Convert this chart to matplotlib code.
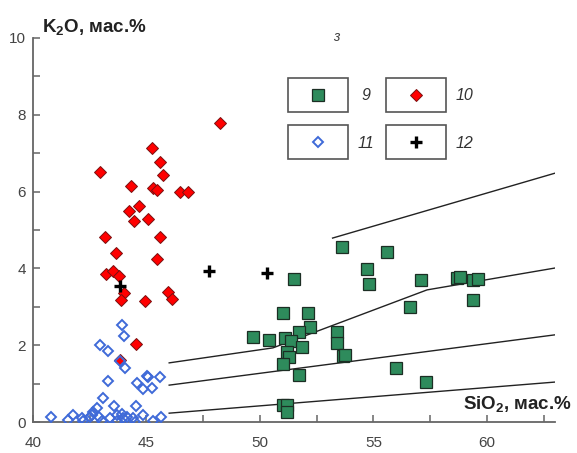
import matplotlib
matplotlib.use("Agg")
import matplotlib.pyplot as plt
from matplotlib.patches import Rectangle
from matplotlib.lines import Line2D

plt.rcParams['font.family'] = ['Liberation Sans', 'DejaVu Sans']
plt.rcParams['mathtext.default'] = 'regular'

# --- data (SiO2, K2O, wt.%) ---
# 9: green squares
g_si = [53.6, 55.6, 51.5, 54.7, 54.8, 57.1, 58.7, 58.8, 59.4, 59.6, 59.4, 56.6,
        51.0, 52.1, 52.2, 51.7, 53.4, 49.7, 50.4, 51.1, 51.35, 53.4, 51.85, 51.2,
        51.3, 53.65, 53.75, 51.0, 51.7, 56.0, 57.3, 51.0, 51.2, 51.2]
g_k = [4.55, 4.42, 3.72, 3.98, 3.60, 3.70, 3.75, 3.78, 3.70, 3.72, 3.17, 3.00,
       2.85, 2.85, 2.47, 2.35, 2.35, 2.22, 2.13, 2.20, 2.10, 2.05, 1.95, 1.83,
       1.70, 1.72, 1.74, 1.51, 1.22, 1.40, 1.03, 0.44, 0.44, 0.26]

# 10: red diamonds
r_si = [45.23, 45.59, 45.74, 42.95, 44.32, 45.27, 45.45, 46.48, 46.84, 44.68,
        44.22, 44.46, 45.05, 43.17, 45.59, 43.64, 45.48, 43.22, 43.54, 43.80,
        44.02, 43.88, 44.95, 45.96, 46.11, 44.54, 43.83, 48.24]
r_k = [7.13, 6.76, 6.43, 6.50, 6.15, 6.09, 6.04, 5.99, 5.99, 5.63,
       5.49, 5.23, 5.29, 4.83, 4.83, 4.41, 4.24, 3.85, 3.94, 3.80,
       3.35, 3.18, 3.16, 3.38, 3.20, 2.03, 1.61, 7.79]

# 11: blue open diamonds
b_si = [43.91, 44.02, 42.95, 43.29, 43.83, 44.05, 43.29, 44.57, 44.86, 45.01,
        45.08, 45.26, 45.59, 43.10, 44.54, 43.57, 43.91, 42.66, 42.81, 42.58,
        42.93, 43.39, 43.72, 44.13, 44.42, 44.86, 45.30, 45.63, 40.78, 41.56,
        41.78, 42.14, 42.22, 42.51, 43.02, 43.69, 44.49, 43.95]
b_k = [2.53, 2.25, 2.00, 1.86, 1.60, 1.40, 1.08, 1.02, 0.85, 1.20,
       1.16, 0.88, 1.16, 0.62, 0.42, 0.42, 0.21, 0.27, 0.36, 0.18,
       0.14, 0.10, 0.18, 0.14, 0.10, 0.18, 0.03, 0.14, 0.14, 0.05,
       0.18, 0.10, 0.03, 0.14, 0.03, 0.03, 0.01, 0.10]

# 12: black crosses
c_si = [43.83, 47.77, 50.32]
c_k = [3.55, 3.94, 3.87]

# classification boundaries
line1_si, line1_k = [53.2, 63.0], [4.79, 6.48]
line2_si, line2_k = [46.0, 50.57, 57.36, 63.0], [1.54, 1.93, 3.44, 4.01]
line3_si, line3_k = [46.0, 63.0], [0.96, 2.27]
line4_si, line4_k = [46.0, 63.0], [0.23, 1.04]

W, H = 577, 453
fig = plt.figure(figsize=(W / 100, H / 100), dpi=100)
ax = fig.add_axes([33 / W, 1 - 422 / H, (555 - 33) / W, (422 - 38) / H])

for xs, ys in [(line1_si, line1_k), (line2_si, line2_k),
               (line3_si, line3_k), (line4_si, line4_k)]:
    ax.plot(xs, ys, color='#222222', lw=1.0, zorder=1)

green = dict(marker='s', ms=9.2, mfc='#2e8b5c', mec='#1c2e24', mew=0.9, ls='none')
red = dict(marker='D', ms=6.5, mfc='#ff0000', mec='#7a1010', mew=0.7, ls='none')
blue = dict(marker='D', ms=5.6, mfc='none', mec='#3f6ad8', mew=1.4, ls='none')
cross = dict(marker='+', ms=9, mec='black', mew=2.4, ls='none')

ax.plot(r_si, r_k, zorder=3, **red)
ax.plot(b_si, b_k, zorder=4, **blue)
ax.plot(g_si, g_k, zorder=3, **green)
ax.plot(c_si, c_k, zorder=5, **cross)

ax.set_xlim(40, 63)
ax.set_ylim(0, 10)
ax.set_xticks([40, 45, 50, 55, 60])
ax.set_xticks([42.5, 47.5, 52.5, 57.5, 62.5], minor=True)
ax.set_yticks([0, 2, 4, 6, 8, 10])
ax.set_yticks([1, 3, 5, 7, 9], minor=True)
for s in ['top', 'right']:
    ax.spines[s].set_visible(False)
for s in ['left', 'bottom']:
    ax.spines[s].set_color('#666666')
    ax.spines[s].set_linewidth(1.3)
ax.tick_params(which='both', direction='in', length=5, width=1.1,
               color='#666666', labelsize=11, labelcolor='#444444')
ax.tick_params(axis='x', pad=10)
ax.tick_params(axis='y', pad=5)

fig.text(42 / W, 1 - 32 / H, 'K$_2$O, мас.%', fontsize=13.5, fontweight='bold',
         color='#222222', ha='left', va='baseline')
fig.text(572 / W, 1 - 409 / H, 'SiO$_2$, мас.%', fontsize=13.5, fontweight='bold',
         color='#222222', ha='right', va='baseline')
fig.text(336 / W, 1 - 37 / H, 'з', fontsize=10, style='italic', color='#444444',
         ha='center', va='center')

# legend boxes
legend_items = [('9', green, 288, 78), ('10', red, 386, 78),
                ('11', blue, 288, 125), ('12', cross, 386, 125)]
for lab, st, x0, y0 in legend_items:
    fig.add_artist(Rectangle((x0 / W, 1 - (y0 + 34) / H), 60 / W, 34 / H,
                             transform=fig.transFigure, fill=False,
                             ec='#555555', lw=1.2))
    fig.add_artist(Line2D([(x0 + 30) / W], [1 - (y0 + 17) / H],
                          transform=fig.transFigure, **st))
    fig.text((x0 + 78) / W, 1 - (y0 + 18) / H, lab, fontsize=11.5, style='italic',
             color='#333333', ha='center', va='center')

fig.savefig('out.png', dpi=100)
